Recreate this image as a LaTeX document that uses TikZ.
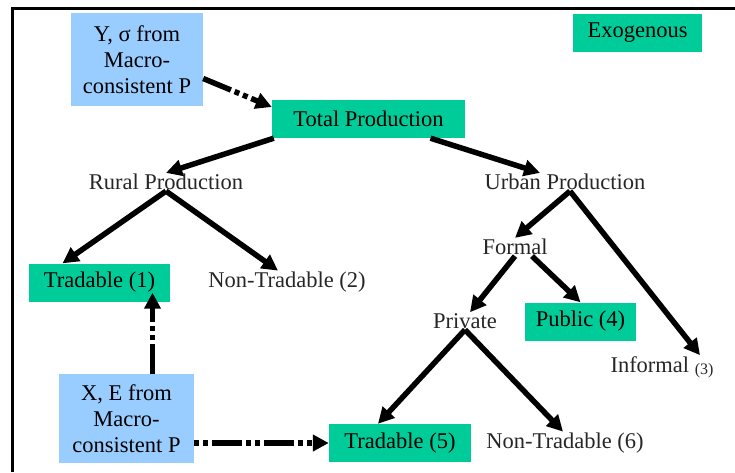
\documentclass[tikz,border=0pt]{standalone}
\usepackage{fontspec}
\setmainfont{Liberation Serif}
\usepackage{xcolor}
\usetikzlibrary{arrows.meta}
\definecolor{exogreen}{HTML}{00CC99}
\definecolor{macroblue}{HTML}{99CCFF}

\begin{document}
\begin{tikzpicture}[x=1pt, y=-1pt,
  font=\rmfamily\fontsize{22.5}{26}\selectfont,
  exo/.style={fill=exogreen, inner sep=0pt, minimum height=38pt},
  macro/.style={fill=macroblue, inner sep=0pt, align=center},
  sector/.style={inner sep=1pt, text=black!85},
  flow/.style={line width=5.5pt, -{Triangle[length=16pt, width=16pt]}},
  feed/.style={flow, dash pattern=on 30pt off 4pt on 5pt off 4pt on 5pt off 4pt}]
\useasboundingbox (0,0) rectangle (735,472);
\draw[line width=3pt] (12,472) -- (12,8.5) -- (735,8.5);

\node[macro, minimum width=132pt, minimum height=93pt] (ysig) at (137,59.5) {Y, σ from\\Macro-\\consistent P};
\node[exo, minimum width=129pt] (exog) at (637.5,32.5) {Exogenous};
\node[exo, minimum width=193pt] (tp) at (368.5,119) {Total Production};
\node[sector] (rural) at (166,182) {Rural Production};
\node[sector] (urban) at (565,182) {Urban Production};
\node[exo, minimum width=141pt] (trad1) at (99.5,282.5) {Tradable (1)};
\node[sector] (nontrad2) at (287,282) {Non-Tradable (2)};
\node[sector] (formal) at (515,247) {Formal};
\node[sector] (private) at (465,321) {Private};
\node[exo, minimum width=111pt] (public) at (580.5,321.5) {Public (4)};
\node[sector] (informal) at (662,367) {Informal \raisebox{-2pt}{\fontsize{16}{18}\selectfont(3)}};
\node[macro, minimum width=135pt, minimum height=89pt] (xe) at (126.5,418.5) {X, E from\\Macro-\\consistent P};
\node[exo, minimum width=142pt] (trad5) at (400,443) {Tradable (5)};
\node[sector] (nontrad6) at (565,443) {Non-Tradable (6)};

\draw[feed] ([yshift=-19pt]ysig.east) -- ([yshift=12pt]tp.west);
\draw[flow] ([xshift=2pt]tp.south west) -- (rural.north);
\draw[flow] ([xshift=62pt]tp.south) -- ([xshift=-25pt]urban.north);
\draw[flow] (rural.south) -- ([xshift=-37pt]trad1.north);
\draw[flow] (rural.south) -- ([xshift=-9pt]nontrad2.north);
\draw[flow] ([xshift=5pt]urban.south) -- (formal.north);
\draw[flow] ([xshift=5pt]urban.south) -- ([xshift=38pt]informal.north);
\draw[flow] (formal.south) -- ([xshift=5pt]private.north);
\draw[flow] ([xshift=17pt]formal.south) -- (public.north);
\draw[flow] (private.south) -- ([xshift=-22pt]trad5.north);
\draw[flow] (private.south) -- ([xshift=-2pt]nontrad6.north);
\draw[feed] ([xshift=26pt]xe.north) -- ([xshift=53pt, yshift=9pt]trad1.south);
\draw[feed, dash phase=34pt] (xe.east |- trad5.west) -- (trad5.west);
\end{tikzpicture}
\end{document}
